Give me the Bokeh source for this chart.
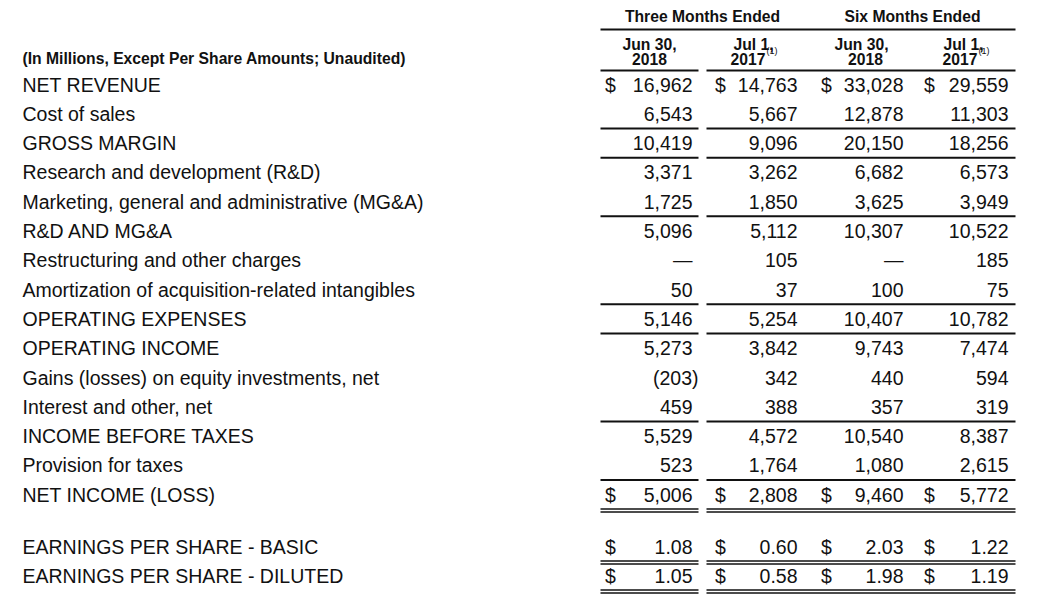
from bokeh.plotting import figure
from bokeh.models import Range1d
from bokeh.core.properties import value
from bokeh.embed import file_html
from bokeh.resources import INLINE

# ---------------- data ----------------
row_labels = [
    "NET REVENUE", "Cost of sales", "GROSS MARGIN", "Research and development (R&D)",
    "Marketing, general and administrative (MG&A)", "R&D AND MG&A",
    "Restructuring and other charges", "Amortization of acquisition-related intangibles",
    "OPERATING EXPENSES", "OPERATING INCOME", "Gains (losses) on equity investments, net",
    "Interest and other, net", "INCOME BEFORE TAXES", "Provision for taxes", "NET INCOME (LOSS)",
]
three_m_2018 = [16962, 6543, 10419, 3371, 1725, 5096, None, 50, 5146, 5273, -203, 459, 5529, 523, 5006]
three_m_2017 = [14763, 5667, 9096, 3262, 1850, 5112, 105, 37, 5254, 3842, 342, 388, 4572, 1764, 2808]
six_m_2018 = [33028, 12878, 20150, 6682, 3625, 10307, None, 100, 10407, 9743, 440, 357, 10540, 1080, 9460]
six_m_2017 = [29559, 11303, 18256, 6573, 3949, 10522, 185, 75, 10782, 7474, 594, 319, 8387, 2615, 5772]

eps_labels = ["EARNINGS PER SHARE - BASIC", "EARNINGS PER SHARE - DILUTED"]
eps_basic = [1.08, 0.60, 2.03, 1.22]
eps_diluted = [1.05, 0.58, 1.98, 1.19]

group_headers = ["Three Months Ended", "Six Months Ended"]
date_line1 = ["Jun 30,", "Jul 1,", "Jun 30,", "Jul 1,"]
date_line2 = ["2018", "2017", "2018", "2017"]
footnote_mark = "(1)"
units_note = "(In Millions, Except Per Share Amounts; Unaudited)"

# ---------------- layout ----------------
W, H = 1030, 597
p = figure(width=W, height=H, x_range=Range1d(0, W), y_range=Range1d(H, 0),
           output_backend="svg", toolbar_location=None, min_border=0,
           x_axis_location=None, y_axis_location=None)
p.grid.visible = False
p.outline_line_color = None
p.background_fill_color = "white"
p.border_fill_color = "white"

FONT = value("Liberation Sans")
SIZE = "19.5px"
HSIZE = "15.7px"
INK = "#111111"

row_y0, row_dy = 84.0, 29.3
row_y = [row_y0 + i * row_dy for i in range(len(row_labels))]
eps_y = [546.5, 575.5]

num_right = [692, 797, 903, 1008]
dollar_x = [610, 720, 826, 929]
col_spans = [(600, 698), (706, 1015)]


def fmt(v):
    if v is None:
        return "\u2014"
    if v < 0:
        return f"({abs(v):,})"
    return f"{v:,}"


# row labels
p.text(x=[22] * (len(row_labels) + 2), y=row_y + eps_y, text=row_labels + eps_labels,
       text_align="left", text_baseline="middle", text_font=FONT, text_font_size=SIZE,
       text_color=INK)

# units note
p.text(x=[22], y=[58], text=[units_note], text_align="left", text_baseline="middle",
       text_font=FONT, text_font_size=HSIZE, text_font_style="bold", text_color=INK)

# headers
p.text(x=[702, 912], y=[16, 16], text=group_headers, text_align="center", text_baseline="middle",
       text_font=FONT, text_font_size=HSIZE, text_font_style="bold", text_color=INK)
p.text(x=[649, 753, 861, 963], y=[44] * 4, text=date_line1, text_align="center",
       text_baseline="middle", text_font=FONT, text_font_size=HSIZE, text_font_style="bold",
       text_color=INK)
p.text(x=[649, 730, 865, 942], y=[58] * 4, text=date_line2,
       text_align=["center", "left", "center", "left"], text_baseline="middle",
       text_font=FONT, text_font_size=HSIZE, text_font_style="bold", text_color=INK)
p.text(x=[766, 978], y=[50, 50], text=[footnote_mark] * 2, text_align="left",
       text_baseline="middle", text_font=FONT, text_font_size="9px", text_color=INK)

# numeric values
xs, ys, ts = [], [], []
for ci, col in enumerate([three_m_2018, three_m_2017, six_m_2018, six_m_2017]):
    for ri, v in enumerate(col):
        xs.append(num_right[ci] + (6 if (v is not None and v < 0) else 0))
        ys.append(row_y[ri])
        ts.append(fmt(v))
for ci in range(4):
    xs += [num_right[ci], num_right[ci]]
    ys += eps_y
    ts += [f"{eps_basic[ci]:.2f}", f"{eps_diluted[ci]:.2f}"]
p.text(x=xs, y=ys, text=ts, text_align="right", text_baseline="middle",
       text_font=FONT, text_font_size=SIZE, text_color=INK)

# dollar signs
dy_rows = [row_y[0], row_y[-1]] + eps_y
dxs, dys = [], []
for x in dollar_x:
    for y in dy_rows:
        dxs.append(x)
        dys.append(y)
p.text(x=dxs, y=dys, text=["$"] * len(dxs), text_align="center", text_baseline="middle",
       text_font=FONT, text_font_size=SIZE, text_color=INK)

# rules
sx0, sx1, sy = [600], [1015], [29]
single_after = [1, 2, 4, 7, 8, 11, 13]
for y in [70] + [(row_y[i] + row_y[i + 1]) / 2 for i in single_after]:
    for a, b in col_spans:
        sx0.append(a); sx1.append(b); sy.append(y)
p.segment(x0=sx0, x1=sx1, y0=sy, y1=sy, line_color=INK, line_width=2)

dx0, dx1, dyl = [], [], []
for y in [508.5, 560.5, 589.5]:
    for off in (0, 3):
        for a, b in col_spans:
            dx0.append(a); dx1.append(b); dyl.append(y + off)
p.segment(x0=dx0, x1=dx1, y0=dyl, y1=dyl, line_color=INK, line_width=1.4)

open("out.html", "w").write(file_html(p, INLINE))
